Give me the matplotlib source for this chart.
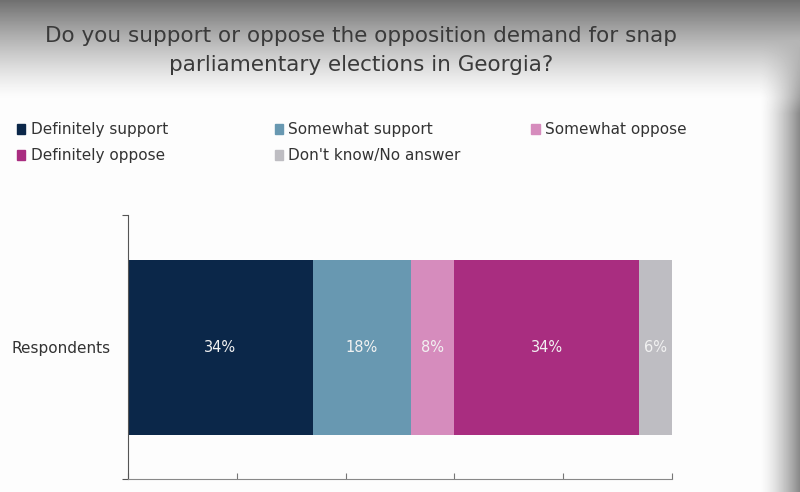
import numpy as np
import matplotlib.pyplot as plt
from matplotlib.patches import Patch

categories = ['Respondents']
series = ['Definitely support', 'Somewhat support', 'Somewhat oppose',
          'Definitely oppose', "Don't know/No answer"]
values = [34, 18, 8, 34, 6]
labels = ['34%', '18%', '8%', '34%', '6%']
colors = ['#0b2749', '#6898b1', '#d68cbd', '#a92d80', '#bebdc2']

title = ('Do you support or oppose the opposition demand for snap\n'
         'parliamentary elections in Georgia?')

fig = plt.figure(figsize=(8, 4.92), dpi=100)

# slide background: grey fade at the top, dark edge on the right
bg = fig.add_axes([0, 0, 1, 1], zorder=-10)
yy = np.linspace(0, 1, 492)[:, None]
xx = np.linspace(0, 1, 800)[None, :]
top = np.clip(1 - (yy / 0.2), 0, 1) ** 1.3
right = np.clip((xx - 0.95) / 0.05, 0, 1) ** 1.5 * np.clip((yy - 0.08) / 0.15, 0, 1)
shade = np.clip(0.99 - 0.55 * top - 0.45 * right, 0, 1)
bg.imshow(shade, cmap='gray', vmin=0, vmax=1, aspect='auto', extent=[0, 1, 0, 1])
bg.axis('off')

fig.text(0.451, 0.897, title, ha='center', va='center', fontsize=15.5,
         color='#3a3a3a', linespacing=1.55)

ax = fig.add_axes([0.16, 0.026, 0.68, 0.537])
ax.set_facecolor('none')
left = 0
for name, v, lab, c in zip(series, values, labels, colors):
    ax.barh(0, v, left=left, height=0.663, color=c, label=name)
    ax.text(left + v / 2, 0, lab, ha='center', va='center',
            color='#f2f2f2', fontsize=10.5)
    left += v

ax.set_xlim(0, 100)
ax.set_ylim(-0.5, 0.5)
ax.set_xticks(np.arange(0, 101, 20))
ax.set_xticklabels([])
ax.set_yticks([-0.5, 0.5])
ax.set_yticklabels([])
ax.set_yticks([0], minor=True)
ax.set_yticklabels(categories, minor=True, fontsize=11, color='#333333')
ax.tick_params(axis='y', which='minor', length=0, pad=12.5)
ax.tick_params(axis='y', which='major', length=4, color='#555555')
ax.tick_params(axis='x', length=4, direction='in', color='#777777')
for s in ['top', 'right']:
    ax.spines[s].set_visible(False)
ax.spines['left'].set_color('#555555')
ax.spines['bottom'].set_color('#888888')

# legend laid out in three columns, row-wise order as on the slide
cols = [[0, 3], [1, 4], [2]]
col_x = [0.004, 0.326, 0.647]
for idx, x in zip(cols, col_x):
    handles = [Patch(color=colors[i]) for i in idx]
    names = [series[i] for i in idx]
    fig.legend(handles, names, loc='upper left', bbox_to_anchor=(x, 0.779),
               frameon=False, fontsize=11, handlelength=0.55, handleheight=0.55,
               handletextpad=0.35, labelspacing=0.72, labelcolor='#333333')

fig.savefig('out.png', dpi=100)
